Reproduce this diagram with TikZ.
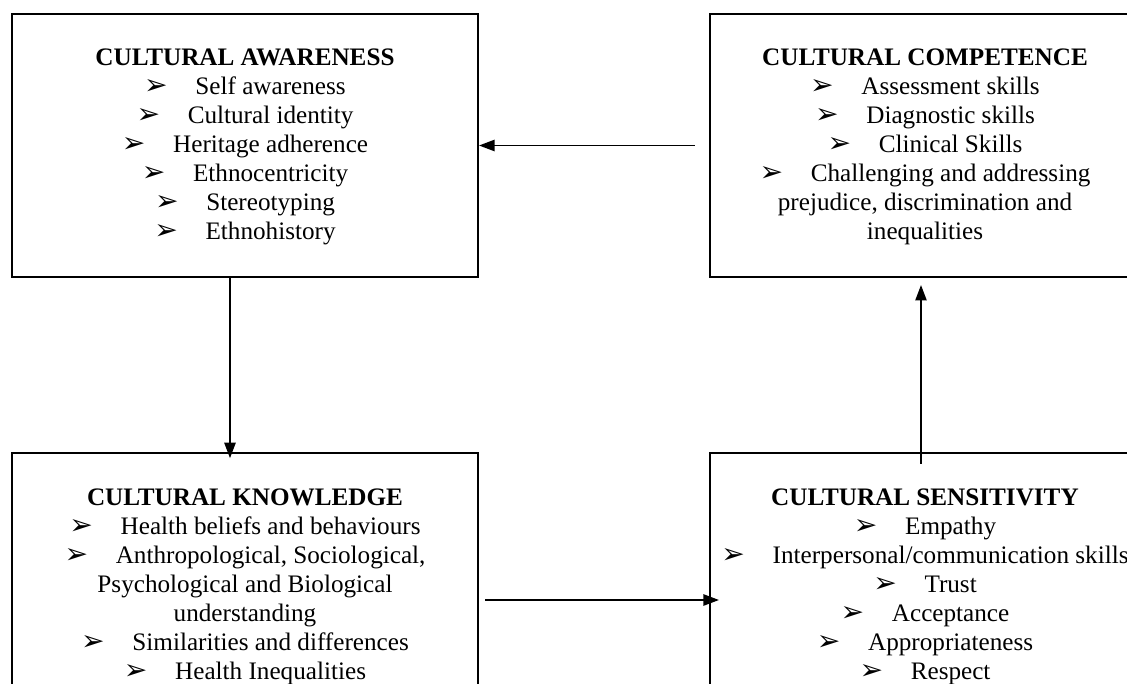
\documentclass[tikz,border=0pt]{standalone}
\usepackage{fontspec}
\setmainfont{Liberation Serif}
\newfontfamily\dingfont{DejaVu Sans}
\usetikzlibrary{arrows.meta}
\newcommand\bul{{\dingfont\fontsize{20}{20}\selectfont ➢}\hspace{1.1em}}
\begin{document}
\begin{tikzpicture}[x=0.025cm,y=-0.025cm,
   box/.style={draw,line width=1.4pt,inner sep=0pt},
   txt/.style={align=center,anchor=north,inner sep=0pt,font=\fontsize{17.9}{20.6}\selectfont},
   arr/.style={line width=1.2pt,-{Triangle[length=11pt,width=8pt]}}]
   \useasboundingbox (0,0) rectangle (1127,684);
   \clip (0,0) rectangle (1127,684);
   \node [box,minimum width=11.65cm,minimum height=6.575cm] (aware) at (245,145.5) {};
   \node [box,minimum width=11cm,minimum height=6.575cm] (compet) at (930,145.5) {};
   \node [box,minimum width=11.65cm,minimum height=6.68cm] (know) at (245,586.4) {};
   \node [box,minimum width=11cm,minimum height=6.68cm] (sens) at (930,586.4) {};
   \node [txt] (awaretxt) at (245,49) {\textbf{CULTURAL AWARENESS}\\ \bul Self awareness\\ \bul Cultural identity\\
      \bul Heritage adherence\\ \bul Ethnocentricity\\ \bul Stereotyping\\ \bul Ethnohistory};
   \node [txt] (compettxt) at (925,49) {\textbf{CULTURAL COMPETENCE}\\ \bul Assessment skills\\ \bul Diagnostic skills\\
      \bul Clinical Skills\\ \bul Challenging and addressing\\ prejudice, discrimination and\\ inequalities};
   \node [txt] (knowtxt) at (245,489) {\textbf{CULTURAL KNOWLEDGE}\\ \bul Health beliefs and behaviours\\ \bul Anthropological, Sociological,\\
      Psychological and Biological\\ understanding\\ \bul Similarities and differences\\ \bul Health Inequalities};
   \node [txt] (senstxt) at (925,489) {\textbf{CULTURAL SENSITIVITY}\\ \bul Empathy\\ \bul Interpersonal/communication skills\\
      \bul Trust\\ \bul Acceptance\\ \bul Appropriateness\\ \bul Respect};
   \draw [arr] (aware.south -| 230,0) -- ([yshift=-0.16cm]know.north -| 230,0);
   \draw [arr] ([xshift=0.15cm]know.east |- 0,600) -- ([xshift=0.25cm]sens.west |- 0,600);
   \draw [arr] ([yshift=-0.3cm]sens.north -| 921,0) -- ([yshift=-0.175cm]compet.south -| 921,0);
   \draw [arr] ([xshift=-0.35cm]compet.west) -- (aware.east);
\end{tikzpicture}
\end{document}
